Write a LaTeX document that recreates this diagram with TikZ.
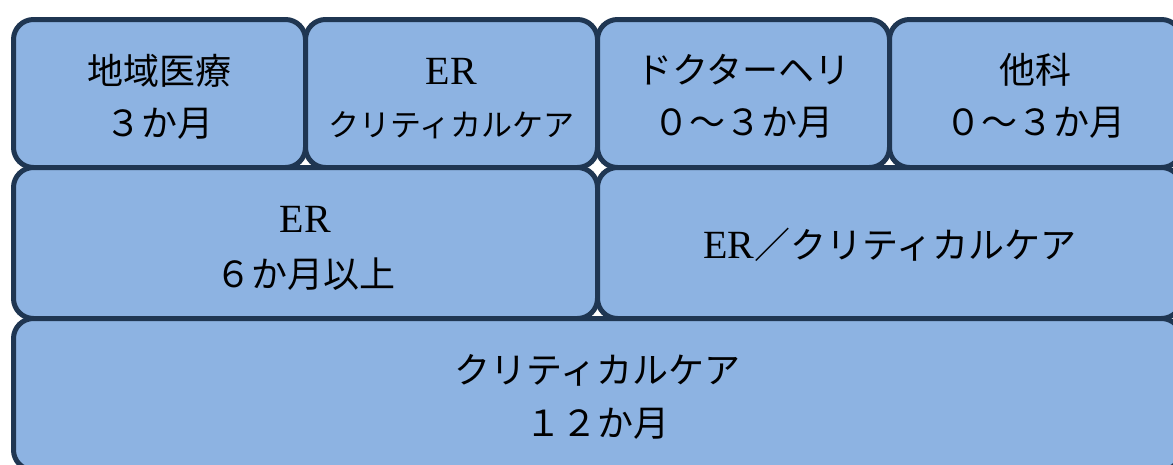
\documentclass[tikz,border=0pt]{standalone}
\usepackage{fontspec}
\setmainfont{Liberation Serif}
\newfontfamily\jp{Noto Sans CJK JP}
\definecolor{boxfill}{HTML}{8DB3E2}
\definecolor{boxline}{HTML}{1F3652}
\begin{document}
\begin{tikzpicture}[x=1pt,y=-1pt,
  cell/.style={draw=boxline, fill=boxfill, line width=5pt, rounded corners=20pt, inner sep=0pt, outer sep=0pt},
  txt/.style={anchor=base, inner sep=0pt, font=\fontsize{36}{40}\selectfont\jp},
  lat/.style={anchor=base, inner sep=0pt, font=\fontsize{40}{44}\selectfont},
  small/.style={anchor=base, inner sep=0pt, font=\fontsize{31}{36}\selectfont\jp}]
\useasboundingbox (0,0) rectangle (1173,464);
\clip (0,0) rectangle (1173,464);
% top row
\node[cell, minimum width=292pt, minimum height=148pt] (b1) at (159.5,93.5) {};
\node[cell, minimum width=292pt, minimum height=148pt] (b2) at (451.5,93.5) {};
\node[cell, minimum width=292pt, minimum height=148pt] (b3) at (743.5,93.5) {};
\node[cell, minimum width=292pt, minimum height=148pt] (b4) at (1035.5,93.5) {};
% second row
\node[cell, minimum width=584pt, minimum height=151pt] (b5) at (305.5,243) {};
\node[cell, minimum width=584pt, minimum height=151pt] (b6) at (889.5,243) {};
% third row
\node[cell, minimum width=1168pt, minimum height=151.5pt] (b7) at (597.5,394.25) {};
% texts
\node[txt] (t1a) at (159.5,84) {地域医療};
\node[txt] (t1b) at (159.5,136) {３か月};
\node[lat] (t2a) at (451.5,84) {ER};
\node[small] (t2b) at (451.5,136) {クリティカルケア};
\node[txt] (t3a) at (743.5,83) {ドクターヘリ};
\node[txt] (t3b) at (743.5,135) {０～３か月};
\node[txt] (t4a) at (1035.5,83) {他科};
\node[txt] (t4b) at (1035.5,135) {０～３か月};
\node[lat] (t5a) at (305.5,232) {ER};
\node[txt] (t5b) at (305.5,287) {６か月以上};
\node[lat] (t6) at (889.5,258) {ER{\fontsize{36}{40}\selectfont\jp ／クリティカルケア}};
\node[txt] (t7a) at (597.5,383) {クリティカルケア};
\node[txt] (t7b) at (597.5,436) {１２か月};
\end{tikzpicture}
\end{document}
